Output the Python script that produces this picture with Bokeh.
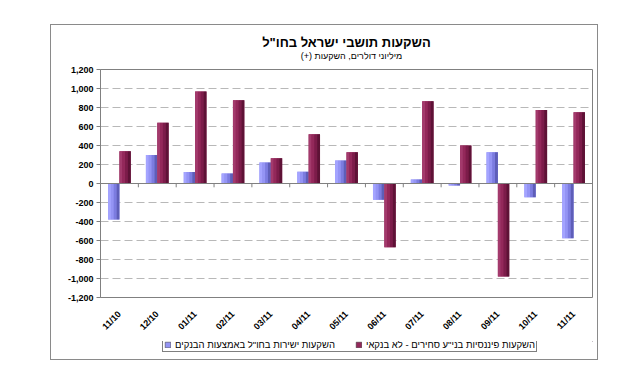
import math
from bokeh.plotting import figure
from bokeh.layouts import column
from bokeh.models import (ColumnDataSource, FactorRange, Range1d, Span, Label, Legend,
                          LegendItem, FixedTicker, NumeralTickFormatter)
from bokeh.transform import dodge
from bokeh.embed import file_html
from bokeh.resources import INLINE

months = ["11/10", "12/10", "01/11", "02/11", "03/11", "04/11", "05/11",
          "06/11", "07/11", "08/11", "09/11", "10/11", "11/11"]
banks = [-380, 300, 120, 105, 220, 123, 242, -172, 42, -21, 330, -144, -575]
nonbank = [340, 639, 968, 877, 267, 519, 330, -670, 867, 400, -979, 775, 751]
y_ticks = list(range(-1200, 1201, 200))

RLM = "\u200f"
title_text = RLM + 'השקעות תושבי ישראל בחו"ל' + RLM
subtitle_text = RLM + 'מיליוני דולרים, השקעות (+)' + RLM
label_banks = RLM + 'השקעות ישירות בחו"ל באמצעות הבנקים' + RLM
label_nonbank = RLM + 'השקעות פיננסיות בני"ע סחירים - לא בנקאי' + RLM

FONT = "Liberation Sans"
blue_shades = ["#a4a4ff", "#9494f4", "#7c7ce0", "#5e5eb8"]
red_shades = ["#a33a6c", "#93285a", "#7c1c4a", "#5e1236"]

W = 546
FRAME_W = 492  # inner frames of the stacked figures are aligned with the chart's frame


def blank_figure(h, xr, yr):
    f = figure(width=W, height=h, output_backend="svg", toolbar_location=None,
               title=None, x_range=Range1d(*xr), y_range=Range1d(*yr),
               x_axis_location=None, y_axis_location=None,
               min_border=0, min_border_left=0, min_border_right=0,
               min_border_top=0, min_border_bottom=0)
    f.grid.visible = False
    f.outline_line_color = None
    f.background_fill_color = "white"
    f.border_fill_color = "white"
    return f


# ---- title strip ----
t = blank_figure(38, (0, FRAME_W), (0, 38))
t.add_layout(Label(x=246, y=21, text=title_text, text_font=FONT, text_font_size="13px",
                   text_font_style="bold", text_color="black",
                   text_align="center", text_baseline="middle"))
t.add_layout(Label(x=251, y=7.5, text=subtitle_text, text_font=FONT, text_font_size="9px",
                   text_color="black", text_align="center", text_baseline="middle"))

# ---- main chart ----
src = ColumnDataSource(dict(month=months, banks=banks, nonbank=nonbank))
tick_src = ColumnDataSource(dict(month=months[:-1]))

p = figure(x_range=FactorRange(*months), y_range=Range1d(-1200, 1200),
           width=W, height=278, output_backend="svg", toolbar_location=None,
           title=None, min_border_left=49, min_border_right=5,
           min_border_top=6, min_border_bottom=44)
p.background_fill_color = "white"
p.border_fill_color = "white"
p.outline_line_color = "#808080"
p.outline_line_width = 1

p.xgrid.visible = False
p.ygrid.ticker = FixedTicker(ticks=y_ticks[1:-1])
p.ygrid.grid_line_color = "#b8b8b8"
p.ygrid.grid_line_dash = "8 4"
p.ygrid.grid_line_width = 1

p.yaxis.ticker = FixedTicker(ticks=y_ticks)
p.yaxis.formatter = NumeralTickFormatter(format="0,0")
p.yaxis.major_label_text_font = FONT
p.yaxis.major_label_text_font_size = "9px"
p.yaxis.major_label_text_font_style = "bold"
p.yaxis.major_label_text_color = "black"
p.yaxis.axis_line_color = "#808080"
p.yaxis.major_tick_line_color = "#808080"
p.yaxis.major_tick_out = 4
p.yaxis.major_tick_in = 0
p.yaxis.minor_tick_line_color = None
p.yaxis.major_label_standoff = 3

p.xaxis.major_label_orientation = math.pi / 4
p.xaxis.axis_line_color = None
p.xaxis.major_tick_line_color = None
p.xaxis.major_label_text_font = FONT
p.xaxis.major_label_text_font_size = "9px"
p.xaxis.major_label_text_font_style = "bold"
p.xaxis.major_label_text_color = "black"
p.xaxis.major_label_standoff = 9

n = len(blue_shades)
bw = 0.30
sw = bw / n
for field, center, shades in (("banks", -0.15, blue_shades), ("nonbank", 0.15, red_shades)):
    p.vbar(x=dodge("month", center, range=p.x_range), top=field, bottom=0,
           width=bw, source=src, fill_color=shades[1], line_color=None)
    for i, c in enumerate(shades):
        off = center - bw / 2 + sw * (i + 0.5)
        p.vbar(x=dodge("month", off, range=p.x_range), top=field, bottom=0,
               width=sw * 1.02, source=src, fill_color=c, line_color=None)

p.add_layout(Span(location=0, dimension="width", line_color="#808080", line_width=1))
p.segment(x0=dodge("month", 0.5, range=p.x_range), y0=0,
          x1=dodge("month", 0.5, range=p.x_range), y1=-40,
          source=tick_src, line_color="#808080", line_width=1)

# ---- legend strip ----
q = blank_figure(18, (0, 1), (0, 1))
swatch = ColumnDataSource(dict(x=[5], top=[5]))
lb = q.vbar(x="x", top="top", bottom=4, width=0.1, source=swatch,
            fill_color=blue_shades[1], line_color="#303030", line_width=0.5)
lr = q.vbar(x="x", top="top", bottom=4, width=0.1, source=swatch,
            fill_color=red_shades[1], line_color="#303030", line_width=0.5)
legend = Legend(items=[LegendItem(label=label_banks, renderers=[lb]),
                       LegendItem(label=label_nonbank, renderers=[lr])],
                orientation="horizontal", location=(62, 7), margin=0, padding=1,
                spacing=20, label_standoff=4, glyph_width=7, glyph_height=7,
                label_height=9, label_text_font=FONT, label_text_font_size="9.5px",
                label_text_color="black", border_line_color="black",
                border_line_width=1, background_fill_color="white",
                background_fill_alpha=1)
q.add_layout(legend)

layout = column(t, p, q, spacing=0)
layout.margin = (24, 0, 0, 50)
layout.styles = {"border": "1px solid #8a8a8a", "background-color": "white"}

open("out.html", "w").write(file_html(layout, INLINE))
